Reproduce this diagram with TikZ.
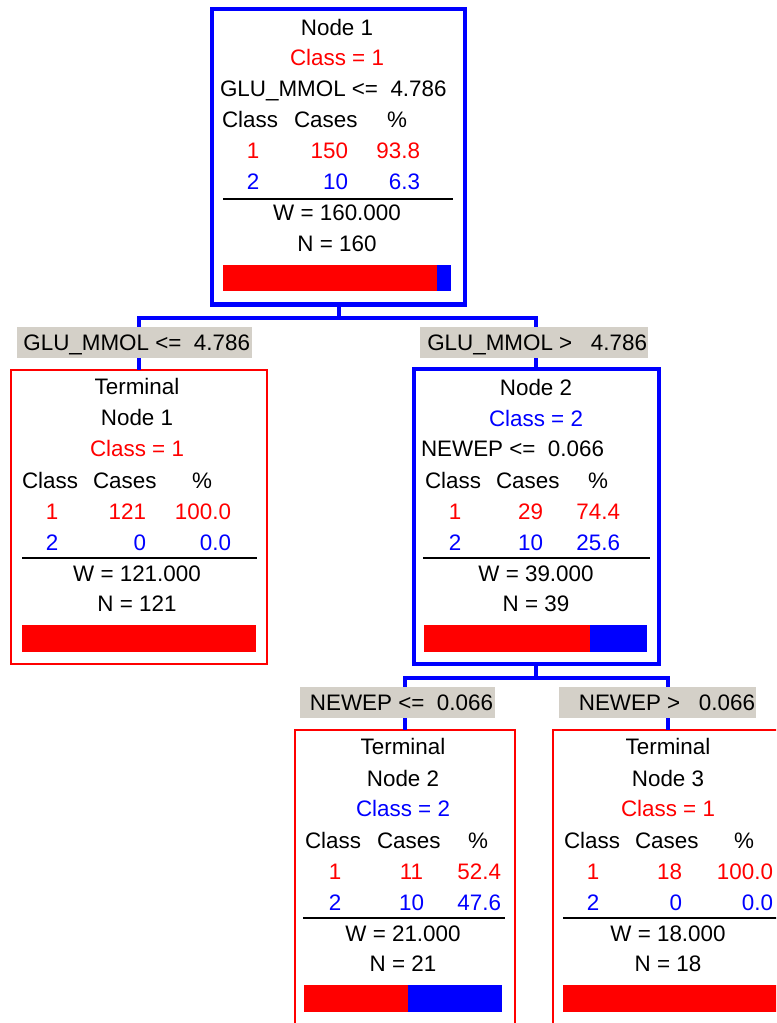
\documentclass[tikz,border=0pt]{standalone}
\usepackage{fontspec}
\setmainfont{Liberation Sans}
\definecolor{cred}{RGB}{255,0,0}
\definecolor{cblue}{RGB}{0,0,255}
\definecolor{cgrey}{RGB}{212,208,200}
\tikzset{
  txt/.style={inner sep=0pt, outer sep=0pt, text height=12pt, text depth=0pt, font=\fontsize{16.8pt}{20pt}\selectfont},
  rd/.style={txt, text=cred},
  bl/.style={txt, text=cblue},
  splitbox/.style={draw=cblue, line width=3pt, inner sep=0pt, outer sep=0pt, fill=white},
  termbox/.style={draw=cred, line width=1.5pt, inner sep=0pt, outer sep=0pt, fill=white},
  conn/.style={draw=cblue, line width=3pt},
  lbl/.style={fill=cgrey, inner sep=0pt, outer sep=0pt, minimum height=23.25pt},
  rulebar/.style={draw=black, line width=1.5pt}
}
\begin{document}
\begin{tikzpicture}[x=0.75pt,y=-0.75pt]
\useasboundingbox (0,0) rectangle (776,1023);
\clip (0,0) rectangle (776,1023);
\fill[white] (0,0) rectangle (776,1023);

% boxes
\node[splitbox, minimum width=189.75pt, minimum height=221.25pt] (n1) at (338.5,157) {};
\node[termbox, minimum width=192pt, minimum height=220.875pt] (t1) at (139,516.75) {};
\node[splitbox, minimum width=183.75pt, minimum height=221.25pt] (n2) at (536,516.5) {};
\node[termbox, minimum width=165pt, minimum height=222pt] (t2) at (404.5,877.5) {};
\node[termbox, minimum width=173.25pt, minimum height=222pt] (t3) at (668,877.5) {};

% connectors
\coordinate (hb1) at (338.5,318);
\draw[conn] (n1.south) -- (hb1);
\draw[conn] (t1.north) -- (t1.north |- hb1) -- (n2.north |- hb1) -- (n2.north);
\coordinate (hb2) at (536,678);
\draw[conn] (n2.south) -- (hb2);
\draw[conn] (t2.north) -- (t2.north |- hb2) -- (t3.north |- hb2) -- (t3.north);

% split labels
\node[lbl, minimum width=176.25pt] (l1) at (134.5,342.5) {};
\node[txt, anchor=east] (l1t) at (250,342.5) {GLU\_MMOL <=\ \ 4.786};
\node[lbl, minimum width=171pt] (l2) at (534,342.5) {};
\node[txt, anchor=east] (l2t) at (647,342.5) {GLU\_MMOL >\ \ \ 4.786};
\node[lbl, minimum width=146.25pt] (l3) at (397.5,702.5) {};
\node[txt, anchor=east] (l3t) at (493,702.5) {NEWEP <=\ \ 0.066};
\node[lbl, minimum width=147.75pt] (l4) at (657.5,702.5) {};
\node[txt, anchor=east] (l4t) at (755,702.5) {NEWEP >\ \ \ 0.066};

% ---- Node 1
\node[txt] (n1a) at (337,28) {Node 1};
\node[rd] (n1b) at (337,58) {Class = 1};
\node[txt, anchor=west] (n1c) at (220,89) {GLU\_MMOL <=\ \ 4.786};
\node[txt, anchor=west] (n1h1) at (222,120) {Class};
\node[txt, anchor=west] (n1h2) at (294,120) {Cases};
\node[txt] (n1h3) at (397,120) {\%};
\node[rd] (n1r1a) at (253,150.5) {1};
\node[rd, anchor=east] (n1r1b) at (348,150.5) {150};
\node[rd, anchor=east] (n1r1c) at (420,150.5) {93.8};
\node[bl] (n1r2a) at (253,181.5) {2};
\node[bl, anchor=east] (n1r2b) at (348,181.5) {10};
\node[bl, anchor=east] (n1r2c) at (420,181.5) {6.3};
\draw[rulebar] (223,199) -- (453,199);
\node[txt] (n1w) at (337,212.5) {W = 160.000};
\node[txt] (n1n) at (337,243.5) {N = 160};
\fill[cred] (223,265) rectangle (437,291.5);
\fill[cblue] (437,265) rectangle (451,291.5);

% ---- Terminal Node 1
\node[txt] (t1a) at (137,386) {Terminal};
\node[txt] (t1b) at (137,417.5) {Node 1};
\node[rd] (t1c) at (137,448.5) {Class = 1};
\node[txt, anchor=west] (t1h1) at (22,480) {Class};
\node[txt, anchor=west] (t1h2) at (93,480) {Cases};
\node[txt] (t1h3) at (202,480) {\%};
\node[rd] (t1r1a) at (52,511.5) {1};
\node[rd, anchor=east] (t1r1b) at (146,511.5) {121};
\node[rd, anchor=east] (t1r1c) at (231,511.5) {100.0};
\node[bl] (t1r2a) at (52,542.5) {2};
\node[bl, anchor=east] (t1r2b) at (146,542.5) {0};
\node[bl, anchor=east] (t1r2c) at (231,542.5) {0.0};
\draw[rulebar] (22,558) -- (257,558);
\node[txt] (t1w) at (137,573.5) {W = 121.000};
\node[txt] (t1n) at (137,603.5) {N = 121};
\fill[cred] (22,625) rectangle (256,651.7);

% ---- Node 2
\node[txt] (n2a) at (536,387.5) {Node 2};
\node[bl] (n2b) at (536,418.5) {Class = 2};
\node[txt, anchor=west] (n2c) at (421,448.5) {NEWEP <=\ \ 0.066};
\node[txt, anchor=west] (n2h1) at (425,480) {Class};
\node[txt, anchor=west] (n2h2) at (496,480) {Cases};
\node[txt] (n2h3) at (598,480) {\%};
\node[rd] (n2r1a) at (455,511.5) {1};
\node[rd, anchor=east] (n2r1b) at (543,511.5) {29};
\node[rd, anchor=east] (n2r1c) at (620,511.5) {74.4};
\node[bl] (n2r2a) at (455,542.5) {2};
\node[bl, anchor=east] (n2r2b) at (543,542.5) {10};
\node[bl, anchor=east] (n2r2c) at (620,542.5) {25.6};
\draw[rulebar] (423,558) -- (650,558);
\node[txt] (n2w) at (536,573.5) {W = 39.000};
\node[txt] (n2n) at (536,603.5) {N = 39};
\fill[cred] (424,625) rectangle (590,651.7);
\fill[cblue] (590,625) rectangle (647,651.7);

% ---- Terminal Node 2
\node[txt] (t2a) at (403,746.5) {Terminal};
\node[txt] (t2b) at (403,778) {Node 2};
\node[bl] (t2c) at (403,808.5) {Class = 2};
\node[txt, anchor=west] (t2h1) at (305,840) {Class};
\node[txt, anchor=west] (t2h2) at (377,840) {Cases};
\node[txt] (t2h3) at (478,840) {\%};
\node[rd] (t2r1a) at (335,871.5) {1};
\node[rd, anchor=east] (t2r1b) at (423,871.5) {11};
\node[rd, anchor=east] (t2r1c) at (501,871.5) {52.4};
\node[bl] (t2r2a) at (335,902) {2};
\node[bl, anchor=east] (t2r2b) at (424,902) {10};
\node[bl, anchor=east] (t2r2c) at (501,902) {47.6};
\draw[rulebar] (303,918) -- (505,918);
\node[txt] (t2w) at (403,933) {W = 21.000};
\node[txt] (t2n) at (403,963.5) {N = 21};
\fill[cred] (304,985) rectangle (408,1011.7);
\fill[cblue] (408,985) rectangle (502,1011.7);

% ---- Terminal Node 3
\node[txt] (t3a) at (668,746.5) {Terminal};
\node[txt] (t3b) at (668,778) {Node 3};
\node[rd] (t3c) at (668,808.5) {Class = 1};
\node[txt, anchor=west] (t3h1) at (564,840) {Class};
\node[txt, anchor=west] (t3h2) at (635,840) {Cases};
\node[txt] (t3h3) at (744,840) {\%};
\node[rd] (t3r1a) at (593,871.5) {1};
\node[rd, anchor=east] (t3r1b) at (682,871.5) {18};
\node[rd, anchor=east] (t3r1c) at (773,871.5) {100.0};
\node[bl] (t3r2a) at (593,902) {2};
\node[bl, anchor=east] (t3r2b) at (682,902) {0};
\node[bl, anchor=east] (t3r2c) at (773,902) {0.0};
\draw[rulebar] (563,918) -- (800,918);
\node[txt] (t3w) at (668,933) {W = 18.000};
\node[txt] (t3n) at (668,963.5) {N = 18};
\fill[cred] (563,985) rectangle (800,1011.7);
\end{tikzpicture}
\end{document}
